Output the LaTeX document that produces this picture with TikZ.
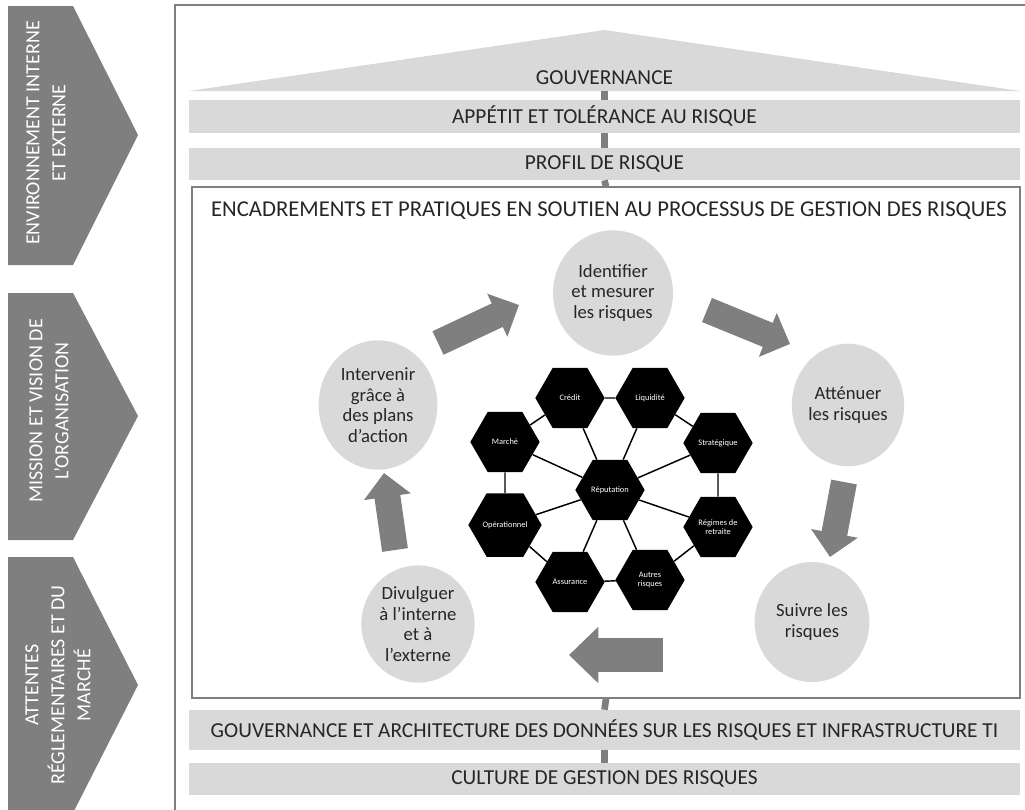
\documentclass[tikz,border=0pt]{standalone}
\usepackage{fontspec}
\setmainfont{Carlito}
\usetikzlibrary{shapes.geometric,arrows.meta}

\definecolor{darkgrey}{RGB}{127,127,127}
\definecolor{lightgrey}{RGB}{217,217,217}
\definecolor{textgrey}{RGB}{38,38,38}

\tikzset{
  bar/.style={rectangle, fill=lightgrey, text=textgrey, inner sep=0pt, minimum width=623pt, font=\fontsize{16}{19}\selectfont},
  stem/.style={draw=darkgrey, line width=5pt},
  side/.style={text=white, rotate=90, align=center, font=\fontsize{15}{19.5}\selectfont},
  stepcircle/.style={ellipse, fill=lightgrey, text=textgrey, align=center, inner sep=0pt, font=\fontsize{14}{15.5}\selectfont},
  hexa/.style={regular polygon, regular polygon sides=6, fill=black, text=white, align=center, inner sep=0pt, minimum size=52pt, font=\fontsize{6.3}{6.8}\selectfont},
  hexlink/.style={draw=black, line width=1.1pt},
  blockarrow/.style={draw=darkgrey, line width=19.5pt, -{Triangle[length=18pt,width=34.5pt]}}
}

\begin{document}
\begin{tikzpicture}[x=0.75pt,y=0.75pt,yscale=-1,xscale=1]
\useasboundingbox (0,0) rectangle (1025,810);

%Shape: left chevrons
\fill[darkgrey] (8,6) -- (73,6) -- (138,135) -- (73,265) -- (8,265) -- cycle;
\fill[darkgrey] (8,293) -- (73,293) -- (138,416) -- (73,540) -- (8,540) -- cycle;
\fill[darkgrey] (8,557) -- (73,557) -- (138,685) -- (73,813) -- (8,813) -- cycle;
% Text Node
\node[side] (envir) at (46,133) {ENVIRONNEMENT INTERNE\\ET EXTERNE};
\node[side] (mission) at (49,411) {MISSION ET VISION DE\\L'ORGANISATION};
\node[side] (attentes) at (58,685) {ATTENTES\\RÉGLEMENTAIRES ET DU\\MARCHÉ};

%Shape: outer frame
\draw[draw=darkgrey, line width=1.5pt] (175,815) -- (175,5) -- (1030,5);

%Shape: roof
\fill[lightgrey] (189,91) -- (604.5,30) -- (1020,91) -- cycle;
\coordinate (roofbase) at (604.5,91);
\node[text=textgrey, font=\fontsize{16}{19}\selectfont] (gouv) at (604.5,78) {GOUVERNANCE};

%Shape: bars
\node[bar, minimum height=24.75pt] (appetit) at (604.5,116.5) {APPÉTIT ET TOLÉRANCE AU RISQUE};
\node[bar, minimum height=24pt] (profil) at (604.5,164) {PROFIL DE RISQUE};
\node[draw=darkgrey, line width=1.2pt, minimum width=621pt, minimum height=383pt, inner sep=0pt] (cadre) at (606,442.5) {};
\node[text=textgrey, font=\fontsize{17}{20}\selectfont] (titre) at (609,211) {ENCADREMENTS ET PRATIQUES EN SOUTIEN AU PROCESSUS DE GESTION DES RISQUES};
\node[bar, minimum height=30pt] (donnees) at (604.5,730) {GOUVERNANCE ET ARCHITECTURE DES DONNÉES SUR LES RISQUES ET INFRASTRUCTURE TI};
\node[bar, minimum height=24pt] (culture) at (604.5,779) {CULTURE DE GESTION DES RISQUES};

% stems between the layers
\draw[stem] (roofbase) -- (appetit.north);
\draw[stem] (appetit.south) -- (profil.north);
\draw[stem] (profil.south) -- (cadre.north);
\draw[stem] (cadre.south) -- (donnees.north);
\draw[stem] (donnees.south) -- (culture.north);

%Shape: process circles
\node[stepcircle, minimum width=90pt, minimum height=94pt] (ident) at (613,293) {Identifier\\et mesurer\\les risques};
\node[stepcircle, minimum width=84pt, minimum height=92pt] (attenuer) at (848,405) {Atténuer\\les risques};
\node[stepcircle, minimum width=86pt, minimum height=90pt] (suivre) at (812,622) {Suivre les\\risques};
\node[stepcircle, minimum width=85pt, minimum height=88pt] (divulguer) at (418,624) {Divulguer\\à l'interne\\et à\\l'externe};
\node[stepcircle, minimum width=89pt, minimum height=97pt] (interv) at (378,405) {Intervenir\\grâce à\\des plans\\d'action};

%Shape: block arrows
\coordinate (a1s) at (438,343);  \coordinate (a1e) at (519,305);
\coordinate (a2s) at (707,310);  \coordinate (a2e) at (790,344);
\coordinate (a3s) at (844,482);  \coordinate (a3e) at (830,557);
\coordinate (a4s) at (663,655);  \coordinate (a4e) at (569,655);
\coordinate (a5s) at (395,550);  \coordinate (a5e) at (384,473);
\draw[blockarrow] (a1s) -- (a1e);
\draw[blockarrow] (a2s) -- (a2e);
\draw[blockarrow] (a3s) -- (a3e);
\draw[blockarrow, line width=25pt, -{Triangle[length=22pt,width=41pt]}] (a4s) -- (a4e);
\draw[blockarrow] (a5s) -- (a5e);

%Shape: risk hexagons
\node[hexa] (credit) at (570,398) {Crédit};
\node[hexa] (liquid) at (650,398) {Liquidité};
\node[hexa] (marche) at (505,442) {Marché};
\node[hexa] (strat) at (718,443) {Stratégique};
\node[hexa] (reput) at (610,490) {Réputation};
\node[hexa] (operat) at (505,525) {Opérationnel};
\node[hexa] (regimes) at (718,527) {Régimes de\\retraite};
\node[hexa] (assur) at (570,582) {Assurance};
\node[hexa] (autres) at (650,580) {Autres\\risques};

% links between hexagons
\draw[hexlink] (credit) -- (liquid);
\draw[hexlink] (credit) -- (marche);
\draw[hexlink] (liquid) -- (strat);
\draw[hexlink] (marche) -- (operat);
\draw[hexlink] (strat) -- (regimes);
\draw[hexlink] (operat) -- (assur);
\draw[hexlink] (regimes) -- (autres);
\draw[hexlink] (assur) -- (autres);
\foreach \n in {credit,liquid,marche,strat,operat,regimes,assur,autres}
  \draw[hexlink] (reput) -- (\n);

\end{tikzpicture}
\end{document}
